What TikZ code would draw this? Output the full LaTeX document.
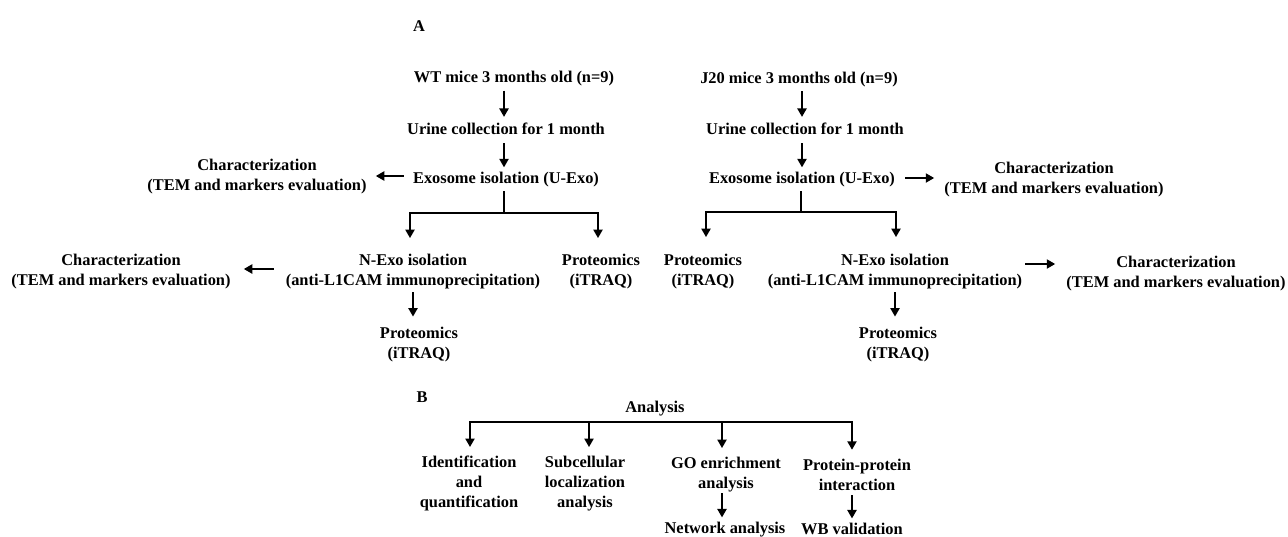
\documentclass[tikz,border=0pt]{standalone}
\usepackage{fontspec}
\setmainfont{Liberation Serif}
\usetikzlibrary{arrows.meta}
\begin{document}
\begin{tikzpicture}[x=1pt,y=-1pt,
  txt/.style={font=\bfseries\fontsize{16.4}{20}\selectfont, align=center, inner sep=0pt},
  arr/.style={line width=2.6pt, -{Triangle[length=8.5pt,width=9pt]}},
  brarr/.style={line width=2.8pt, line join=miter, -{Triangle[length=8.5pt,width=9pt]}},
  ln/.style={line width=2.8pt}]
\useasboundingbox[fill=white] (0,0) rectangle (1288,536);

% spines and junctions
\coordinate (sL) at (504,0);
\coordinate (sR) at (802,0);
\coordinate (jL) at (504,213);
\coordinate (bL1) at (410,213);
\coordinate (bL2) at (598,213);
\coordinate (jR) at (801,212);
\coordinate (bR1) at (706,212);
\coordinate (bR2) at (896,212);
\coordinate (a1) at (470,422);
\coordinate (a2) at (589,422);
\coordinate (a3) at (722,422);
\coordinate (a4) at (852,422);

% ---------- A ----------
\node[txt] (A) at (419,26) {A};

% left tree
\node[txt] (wt) at (514,79) {WT mice 3 months old (n=9)};
\node[txt] (ur) at (506,128.5) {Urine collection for 1 month};
\node[txt] (ex) at (506,179.5) {Exosome isolation (U-Exo)};
\node[txt] (charL1) at (257,176.5) {Characterization\\(TEM and markers evaluation)};
\node[txt] (nexoL) at (413,271.75) {N-Exo isolation\\(anti-L1CAM immunoprecipitation)};
\node[txt] (protL1) at (601,271.75) {Proteomics\\(iTRAQ)};
\node[txt] (charL2) at (121,271.75) {Characterization\\(TEM and markers evaluation)};
\node[txt] (protL2) at (419,344.75) {Proteomics\\(iTRAQ)};

% right tree
\node[txt] (j20) at (799,79.5) {J20 mice 3 months old (n=9)};
\node[txt] (urR) at (805,128.5) {Urine collection for 1 month};
\node[txt] (exR) at (802,179.5) {Exosome isolation (U-Exo)};
\node[txt] (charR1) at (1054,179.5) {Characterization\\(TEM and markers evaluation)};
\node[txt] (protR1) at (703,271.75) {Proteomics\\(iTRAQ)};
\node[txt] (nexoR) at (895,271.75) {N-Exo isolation\\(anti-L1CAM immunoprecipitation)};
\node[txt] (charR2) at (1176,273.5) {Characterization\\(TEM and markers evaluation)};
\node[txt] (protR2) at (898,344.75) {Proteomics\\(iTRAQ)};

% ---------- B ----------
\node[txt] (B) at (422,397) {B};
\node[txt] (analysis) at (655,408.75) {Analysis};
\node[txt] (ident) at (469,483.75) {Identification\\and\\quantification};
\node[txt] (subc) at (585,483.75) {Subcellular\\localization\\analysis};
\node[txt] (go) at (726,474.75) {GO enrichment\\analysis};
\node[txt] (ppi) at (857,474.75) {Protein-protein\\interaction};
\node[txt] (net) at (725,529.6) {Network analysis};
\node[txt] (wb) at (852,529) {WB validation};

% ---------- connectors: left tree ----------
\draw[arr, shorten <=4pt, shorten >=5.5pt] (wt.south -| sL) -- (ur.north -| sL);
\draw[arr, shorten <=8.5pt, shorten >=4.5pt] (ur.south -| sL) -- (ex.north -| sL);
\draw[arr, shorten <=9pt, shorten >=9pt] ([yshift=3.5pt]ex.west) -- ([yshift=3.5pt]ex.west -| charL1.east);
\draw[ln] ([yshift=-4pt]ex.south -| sL) -- (jL);
\draw[brarr, shorten >=16pt] (jL) -| (bL1 |- nexoL.north);
\draw[brarr, shorten >=16pt] (jL) -| (bL2 |- protL1.north);
\draw[arr, shorten <=12pt, shorten >=13pt] ([yshift=2.75pt]nexoL.west) -- ([yshift=2.75pt]nexoL.west -| charL2.east);
\draw[arr, shorten <=3pt, shorten >=10.5pt] (nexoL.south) -- (nexoL.south |- protL2.north);

% ---------- connectors: right tree ----------
\draw[arr, shorten <=4pt, shorten >=5.5pt] (j20.south -| sR) -- (urR.north -| sR);
\draw[arr, shorten <=8.5pt, shorten >=4.5pt] (urR.south -| sR) -- (exR.north -| sR);
\draw[arr, shorten <=10pt, shorten >=10pt] ([yshift=1.5pt]exR.east) -- ([yshift=1.5pt]exR.east -| charR1.west);
\draw[ln] ([yshift=-4pt]exR.south -| jR) -- (jR);
\draw[brarr, shorten >=17pt] (jR) -| (bR1 |- protR1.north);
\draw[brarr, shorten >=17pt] (jR) -| (bR2 |- nexoR.north);
\draw[arr, shorten <=3pt, shorten >=11pt] ([yshift=7.75pt]nexoR.east) -- ([yshift=7.75pt]nexoR.east -| charR2.west);
\draw[arr, shorten <=3pt, shorten >=10.5pt] (nexoR.south) -- (nexoR.south |- protR2.north);

% ---------- connectors: B ----------
\draw[brarr, shorten >=9pt] (a2) -| (a1 |- ident.north);
\draw[brarr, shorten >=9pt] (a3) -| (a4 |- ppi.north);
\draw[ln] (a2) -- (a3);
\draw[arr, shorten >=9pt] (a2) -- (a2 |- subc.north);
\draw[arr, shorten >=9pt] (a3) -- (a3 |- go.north);
\draw[arr, shorten <=1pt, shorten >=4.5pt] (a3 |- go.south) -- (a3 |- net.north);
\draw[arr, shorten <=4.5pt, shorten >=4.5pt] (a4 |- ppi.south) -- (a4 |- wb.north);
\end{tikzpicture}
\end{document}
